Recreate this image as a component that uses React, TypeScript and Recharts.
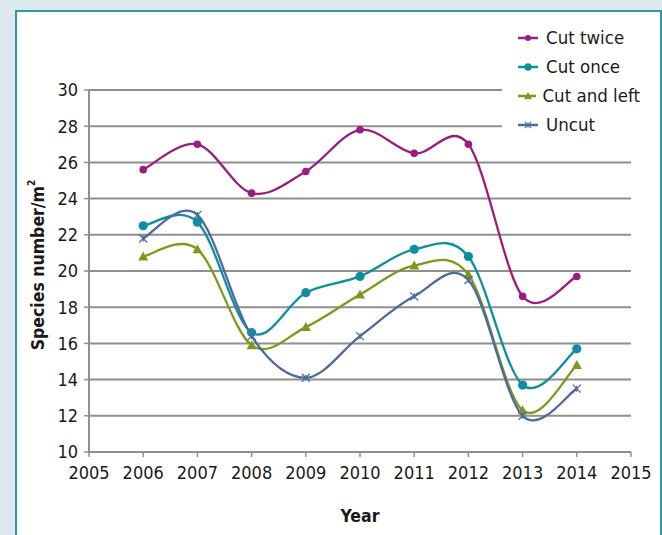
import React from "react";
import { CartesianGrid, Legend, Line, LineChart, XAxis, YAxis } from "recharts";

const years = [2006, 2007, 2008, 2009, 2010, 2011, 2012, 2013, 2014];
const cutTwice = [25.6, 27.0, 24.3, 25.5, 27.8, 26.5, 27.0, 18.6, 19.7];
const cutOnce = [22.5, 22.7, 16.6, 18.8, 19.7, 21.2, 20.8, 13.7, 15.7];
const cutAndLeft = [20.8, 21.2, 15.9, 16.9, 18.7, 20.3, 19.8, 12.3, 14.8];
const uncut = [21.8, 23.1, 16.4, 14.1, 16.4, 18.6, 19.5, 12.0, 13.5];

const xTicks = [2005, 2006, 2007, 2008, 2009, 2010, 2011, 2012, 2013, 2014, 2015];
const yTicks = [10, 12, 14, 16, 18, 20, 22, 24, 26, 28, 30];

const data = years.map((year, i) => ({
  year,
  cutTwice: cutTwice[i],
  cutOnce: cutOnce[i],
  cutAndLeft: cutAndLeft[i],
  uncut: uncut[i],
}));

const FONT = '"DejaVu Sans Condensed", "DejaVu Sans", sans-serif';
const GRID = "#8f8f8f";
const tickStyle = { fontFamily: FONT, fontSize: 18, fill: "#1a1a1a", fontStretch: "condensed" };

const series = [
  { key: "cutTwice", name: "Cut twice", color: "#9b1c7e", marker: "dot" },
  { key: "cutOnce", name: "Cut once", color: "#0e8fa0", marker: "circle" },
  { key: "cutAndLeft", name: "Cut and left", color: "#7b9a1a", marker: "triangle" },
  { key: "uncut", name: "Uncut", color: "#4d6a9c", marker: "star" },
];

// Excel style smoothed line: Catmull-Rom bezier segments
function excelSmooth(context: any) {
  let pts: [number, number][] = [];
  return {
    areaStart() {},
    areaEnd() {},
    lineStart() {
      pts = [];
    },
    point(x: number, y: number) {
      pts.push([+x, +y]);
    },
    lineEnd() {
      const n = pts.length;
      if (!n) return;
      context.moveTo(pts[0][0], pts[0][1]);
      for (let i = 0; i < n - 1; i++) {
        const p0 = pts[Math.max(i - 1, 0)];
        const p1 = pts[i];
        const p2 = pts[i + 1];
        const p3 = pts[Math.min(i + 2, n - 1)];
        context.bezierCurveTo(
          p1[0] + (p2[0] - p0[0]) / 6,
          p1[1] + (p2[1] - p0[1]) / 6,
          p2[0] - (p3[0] - p1[0]) / 6,
          p2[1] - (p3[1] - p1[1]) / 6,
          p2[0],
          p2[1]
        );
      }
    },
  };
}

function Marker({ kind, cx, cy, color }: { kind: string; cx: number; cy: number; color: string }) {
  if (kind === "dot") return <circle cx={cx} cy={cy} r={3.8} fill={color} />;
  if (kind === "circle") return <circle cx={cx} cy={cy} r={4.6} fill={color} />;
  if (kind === "triangle")
    return <polygon points={`${cx},${cy - 5} ${cx + 5},${cy + 4} ${cx - 5},${cy + 4}`} fill={color} />;
  return (
    <g stroke={color} strokeWidth={1.3}>
      <line x1={cx - 4} y1={cy - 4} x2={cx + 4} y2={cy + 4} />
      <line x1={cx - 4} y1={cy + 4} x2={cx + 4} y2={cy - 4} />
      <line x1={cx} y1={cy - 3} x2={cx} y2={cy + 3} />
    </g>
  );
}

function LegendBox(props: any) {
  const shown = new Set((props.payload || []).map((e: any) => e.dataKey));
  return (
    <div style={{ background: "#fff", padding: "2px 0 8px 14px", fontFamily: FONT, fontStretch: "condensed" }}>
      {series
        .filter((s) => shown.has(s.key))
        .map((s) => (
          <div key={s.key} style={{ display: "flex", alignItems: "center", height: 29, whiteSpace: "nowrap" }}>
            <svg width={24} height={12} style={{ marginRight: 6 }}>
              <line x1={2} y1={6} x2={22} y2={6} stroke={s.color} strokeWidth={2.5} />
              <g transform="translate(12,6) scale(0.8) translate(-12,-6)">
                <Marker kind={s.marker} cx={12} cy={6} color={s.color} />
              </g>
            </svg>
            <span style={{ fontSize: 18.5, color: "#1a1a1a" }}>{s.name}</span>
          </div>
        ))}
    </div>
  );
}

function YLabel(props: any) {
  const vb = props.viewBox || {};
  const x = vb.x + vb.width - 51;
  const y = vb.y + vb.height / 2 - 6;
  return (
    <text
      x={x}
      y={y}
      transform={`rotate(-90, ${x}, ${y})`}
      textAnchor="middle"
      dominantBaseline="central"
      fontFamily={FONT}
      fontSize={17.5}
      fontWeight="bold"
      fill="#1a1a1a"
      style={{ fontStretch: "condensed" }}
    >
      Species number/m
      <tspan fontSize={10} dy={-7}>
        2
      </tspan>
    </text>
  );
}

export default function App() {
  return (
    <div style={{ position: "absolute", left: 0, top: 0, width: 662, height: 535, background: "#dde9ee", overflow: "hidden" }}>
      <div
        style={{
          position: "absolute",
          left: 15,
          top: 10,
          width: 647,
          height: 540,
          boxSizing: "border-box",
          border: "2px solid #2a9aab",
          background: "#fff",
        }}
      />
      <div style={{ position: "absolute", left: 0, top: 0 }}>
        <LineChart width={662} height={535} data={data} margin={{ top: 90, right: 31, bottom: 13, left: 19 }}>
          <CartesianGrid vertical={false} stroke={GRID} strokeWidth={2} />
          <XAxis
            dataKey="year"
            type="number"
            domain={[2005, 2015]}
            ticks={xTicks}
            interval={0}
            height={70}
            axisLine={{ stroke: GRID, strokeWidth: 2 }}
            tickLine={{ stroke: GRID, strokeWidth: 1.5 }}
            tickSize={5}
            tickMargin={9}
            tick={tickStyle}
            label={{ value: "Year", position: "insideBottom", offset: 0, fontFamily: FONT, fontSize: 17.5, fontWeight: "bold", fill: "#1a1a1a", style: { fontStretch: "condensed" } }}
          />
          <YAxis
            type="number"
            domain={[10, 30]}
            ticks={yTicks}
            interval={0}
            width={70}
            axisLine={{ stroke: GRID, strokeWidth: 2 }}
            tickLine={{ stroke: GRID, strokeWidth: 1.5 }}
            tickSize={5}
            tickMargin={6}
            tick={tickStyle}
            label={<YLabel />}
          />
          <Legend
            layout="vertical"
            align="center"
            verticalAlign="middle"
            content={<LegendBox />}
            wrapperStyle={{ left: 502, top: 21, width: 138, height: 120 }}
          />
          {series.map((s) => (
            <Line
              key={s.key}
              dataKey={s.key}
              name={s.name}
              type={excelSmooth as any}
              stroke={s.color}
              strokeWidth={2.3}
              isAnimationActive={false}
              dot={(p: any) => <Marker key={`${s.key}-${p.index}`} kind={s.marker} cx={p.cx} cy={p.cy} color={s.color} />}
              activeDot={false}
            />
          ))}
        </LineChart>
      </div>
    </div>
  );
}
